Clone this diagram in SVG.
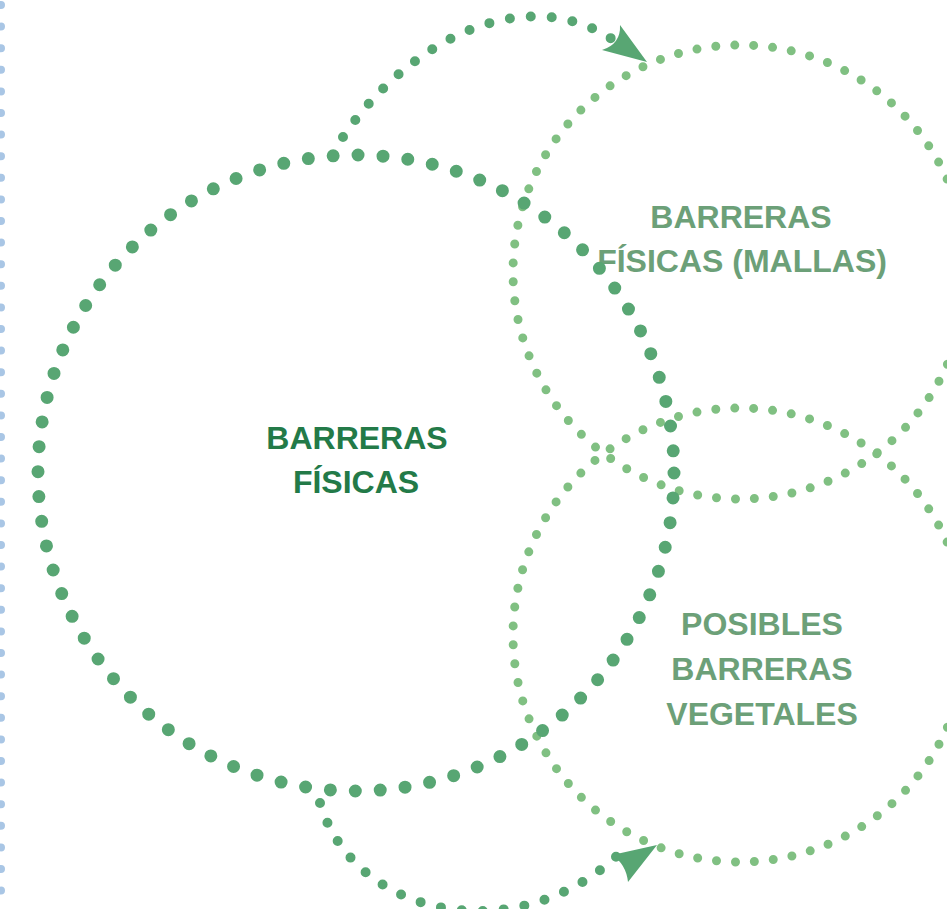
<svg xmlns="http://www.w3.org/2000/svg" width="947" height="909" viewBox="0 0 947 909">
<style>
.big{fill:none;stroke:#58a673;stroke-width:13;stroke-linecap:round;stroke-dasharray:0 25}
.small{fill:none;stroke:#80c082;stroke-width:9;stroke-linecap:round;stroke-dasharray:0 19}
.arr{fill:none;stroke:#58a673;stroke-width:10;stroke-linecap:round;stroke-dasharray:0 21}
.head{fill:#58a673}
.edge{fill:none;stroke:#a9c6e5;stroke-width:8;stroke-linecap:round;stroke-dasharray:0 21.6}
text{font-family:"Liberation Sans",Arial,sans-serif;font-weight:bold;font-size:32px;text-anchor:middle}
.dark{fill:#237a48}
.light{fill:#6ca078}
</style>
<rect width="947" height="909" fill="#ffffff"/>
<line class="edge" x1="1" y1="5" x2="1" y2="909"/>
<g id="node-mallas">
<circle class="small" cx="740" cy="272" r="227"/>
<text class="light" x="741" y="228">BARRERAS</text>
<text class="light" x="742" y="272">FÍSICAS (MALLAS)</text>
</g>
<g id="node-vegetales">
<circle class="small" cx="740" cy="635" r="227"/>
<text class="light" x="762" y="635">POSIBLES</text>
<text class="light" x="762" y="680">BARRERAS</text>
<text class="light" x="762" y="725">VEGETALES</text>
</g>
<g id="node-fisicas">
<circle class="big" cx="356" cy="473" r="318"/>
<text class="dark" x="357" y="449">BARRERAS</text>
<text class="dark" x="356" y="493">FÍSICAS</text>
</g>
<g id="connectors">
<path class="arr" d="M343,137 C405,45 520,-20 612,39"/>
<path class="head" d="M647,62 L602,50 Q621,44 620,25 Z"/>
<path class="arr" d="M320,803 C355,920 520,950 620,853"/>
<path class="head" d="M657,845 L612,855 Q626,864 628,882 Z"/>
</g>
</svg>
